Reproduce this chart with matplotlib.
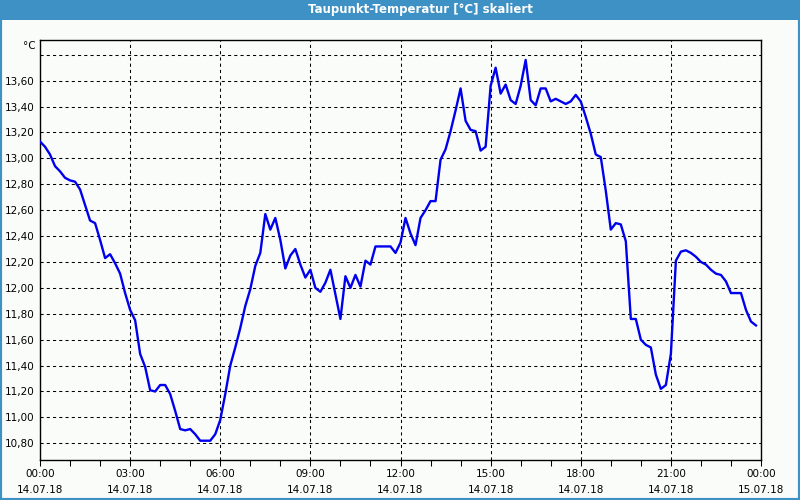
import numpy as np
import pandas as pd
import matplotlib
matplotlib.use("Agg")
import matplotlib.pyplot as plt
import matplotlib.dates as mdates
from matplotlib.patches import Rectangle
from matplotlib.ticker import FuncFormatter, MultipleLocator

# Taupunkt-Werte, 10-Minuten-Raster ab 14.07.18 00:00
werte = [
    13.13, 13.09, 13.03, 12.94, 12.90, 12.85, 12.83, 12.82, 12.76, 12.64,
    12.52, 12.50, 12.37, 12.23, 12.26, 12.19, 12.11, 11.96, 11.83, 11.75,
    11.49, 11.39, 11.21, 11.20, 11.25, 11.25, 11.18, 11.05, 10.91, 10.90,
    10.91, 10.87, 10.82, 10.82, 10.82, 10.87, 10.98, 11.18, 11.40, 11.54,
    11.69, 11.86, 11.99, 12.17, 12.27, 12.57, 12.45, 12.54, 12.37, 12.15,
    12.25, 12.30, 12.18, 12.08, 12.14, 12.00, 11.97, 12.04, 12.14, 11.95,
    11.76, 12.09, 12.00, 12.10, 12.01, 12.21, 12.18, 12.32, 12.32, 12.32,
    12.32, 12.27, 12.35, 12.54, 12.42, 12.33, 12.54, 12.60, 12.67, 12.67,
    12.99, 13.07, 13.21, 13.37, 13.54, 13.29, 13.22, 13.21, 13.06, 13.09,
    13.56, 13.70, 13.50, 13.57, 13.45, 13.42, 13.56, 13.76, 13.45, 13.41,
    13.54, 13.54, 13.44, 13.46, 13.44, 13.42, 13.44, 13.49, 13.44, 13.32,
    13.19, 13.03, 13.01, 12.75, 12.45, 12.50, 12.49, 12.36, 11.76, 11.76,
    11.60, 11.56, 11.54, 11.33, 11.22, 11.25, 11.49, 12.21, 12.28, 12.29,
    12.27, 12.24, 12.20, 12.18, 12.14, 12.11, 12.10, 12.05, 11.96, 11.96,
    11.96, 11.83, 11.74, 11.71,
]
zeiten = pd.date_range("2018-07-14 00:00", periods=len(werte), freq="10min")

titel = "Taupunkt-Temperatur [°C] skaliert"
einheit = "°C"

hintergrund = "#fafcfa"
rahmen_blau = "#3d91c4"

fig = plt.figure(figsize=(8, 5), dpi=100, facecolor=hintergrund)

# Rahmen und Titelleiste
fig.patches.append(Rectangle((0, 0), 1, 1, transform=fig.transFigure,
                             fill=False, edgecolor=rahmen_blau, linewidth=3, zorder=0))
fig.patches.append(Rectangle((0, 1 - 20 / 500), 1, 20 / 500, transform=fig.transFigure,
                             facecolor=rahmen_blau, edgecolor="none", zorder=1))
fig.text(420 / 800, 1 - 10 / 500, titel, color="white", fontsize=8.5,
         fontweight="bold", family="DejaVu Sans", ha="center", va="center")

ax = fig.add_axes([40 / 800, 40 / 500, 721 / 800, 420 / 500])
ax.set_facecolor(hintergrund)

ax.plot(zeiten, werte, color="#0000ee", linewidth=1.7, zorder=3)

start = pd.Timestamp("2018-07-14 00:00")
ax.set_xlim(start, start + pd.Timedelta(hours=24))
ax.set_ylim(10.671, 13.914)

ax.xaxis.set_major_locator(mdates.HourLocator(byhour=range(0, 24, 3)))
ax.xaxis.set_minor_locator(mdates.HourLocator())
ax.xaxis.set_major_formatter(mdates.DateFormatter("%H:%M\n%d.%m.%y"))

ax.yaxis.set_major_locator(MultipleLocator(0.2))
ax.yaxis.set_major_formatter(FuncFormatter(
    lambda v, p: "" if v > 13.7 else f"{v:.2f}".replace(".", ",")))

ax.grid(True, which="major", color="black", linewidth=0.75,
        linestyle=(0, (3, 3)))

ax.tick_params(axis="x", which="both", direction="out", length=4,
               width=0.75, colors="black", labelsize=7.5, pad=2.5)
ax.tick_params(axis="y", which="both", length=0, labelsize=7.5, pad=4,
               colors="black")
for lbl in ax.get_xticklabels():
    lbl.set_linespacing(1.75)
for s in ax.spines.values():
    s.set_color("black")
    s.set_linewidth(1.0)

fig.text(36 / 800, 1 - 46 / 500, einheit, fontsize=7.5, ha="right", va="center")

fig.savefig("out.png", dpi=100, facecolor=hintergrund)
